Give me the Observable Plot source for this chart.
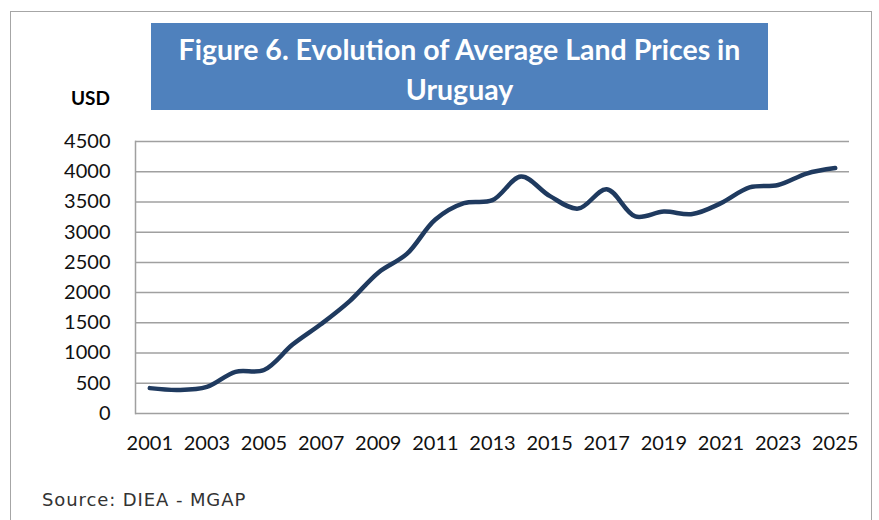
<!DOCTYPE html>
<html>
<head>
<meta charset="utf-8">
<script src="https://cdn.jsdelivr.net/npm/d3@7"></script>
<script src="https://cdn.jsdelivr.net/npm/@observablehq/plot@0.6"></script>
<style>
  html, body { margin: 0; padding: 0; background: #fff; }
  #wrap { position: relative; width: 879px; height: 520px; overflow: hidden; background: #fff; }
  #border { position: absolute; left: 10px; top: 11px; width: 862px; height: 600px;
    border: 1.5px solid #a6a6a6; box-sizing: border-box; }
  #title { position: absolute; left: 151px; top: 23px; width: 617px; height: 87px;
    background: #4f81bd; color: #fff; font-family: Lato, "Open Sans", sans-serif; font-weight: 700;
    font-size: 28.5px; line-height: 40px; text-align: center; box-sizing: border-box; padding-top: 6px; }
  #usd { position: absolute; left: 71px; top: 86px; font-family: Lato, sans-serif; font-weight: 700;
    font-size: 19px; color: #000; }
  #source { position: absolute; left: 42px; top: 489px; font-family: "DejaVu Sans", sans-serif;
    font-size: 18px; letter-spacing: 0.9px; color: #333; }
  #chart { position: absolute; left: 0; top: 0; }
</style>
</head>
<body>
<div id="wrap">
  <div id="border"></div>
  <div id="chart"></div>
  <div id="title">Figure 6. Evolution of Average Land Prices in<br>Uruguay</div>
  <div id="usd">USD</div>
  <div id="source">Source: DIEA - MGAP</div>
</div>
<script>
const years = [2001,2002,2003,2004,2005,2006,2007,2008,2009,2010,2011,2012,2013,2014,2015,2016,2017,2018,2019,2020,2021,2022,2023,2024,2025];
const prices = [420,390,440,690,720,1140,1480,1860,2330,2640,3210,3480,3530,3920,3600,3390,3710,3260,3340,3300,3480,3740,3780,3970,4060];
const yTicks = [0,500,1000,1500,2000,2500,3000,3500,4000,4500];
const xTickYears = years.filter(y => y % 2 === 1);

const data = years.map((y, i) => ({year: y, value: prices[i]}));

const chart = Plot.plot({
  width: 879,
  height: 520,
  marginLeft: 135,
  marginRight: 30,
  marginTop: 141,
  marginBottom: 107,
  style: {fontFamily: "Lato, 'Liberation Sans', sans-serif", fontSize: "20px", color: "#111", background: "transparent", overflow: "visible"},
  x: {type: "point", domain: years, padding: 0.5, round: false},
  y: {domain: [0, 4500]},
  marks: [
    Plot.gridY(yTicks, {stroke: "#a0a0a0", strokeOpacity: 1, strokeWidth: 1.5}),
    Plot.frame({anchor: "left", stroke: "#a0a0a0", strokeWidth: 1.5}),
    Plot.axisY({ticks: yTicks, tickSize: 0, tickPadding: 25, tickFormat: d => String(d), label: null, fontSize: 20}),
    Plot.axisX({ticks: xTickYears, tickSize: 0, tickPadding: 22, tickFormat: d => String(d), label: null, fontSize: 20}),
    Plot.lineY(data, {x: "year", y: "value", curve: "catmull-rom", stroke: "#1f3a5f", strokeWidth: 4.5, strokeLinecap: "round"})
  ]
});
document.getElementById("chart").appendChild(chart);
</script>
</body>
</html>
